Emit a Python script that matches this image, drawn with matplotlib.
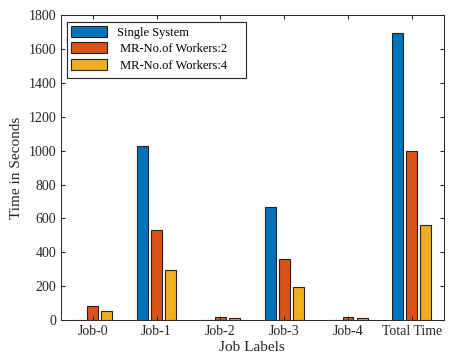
import matplotlib
matplotlib.use("Agg")
import matplotlib.pyplot as plt
from matplotlib.patches import Rectangle
import numpy as np

plt.rcParams['font.family'] = ['Liberation Serif', 'DejaVu Serif']

categories = ["Job-0", "Job-1", "Job-2", "Job-3", "Job-4", "Total Time"]
single_system = [0, 1030, 0, 665, 0, 1697]
mr_workers_2 = [80, 530, 15, 360, 17, 1000]
mr_workers_4 = [52, 293, 10, 195, 10, 563]
series_labels = ["Single System", " MR-No.of Workers:2", " MR-No.of Workers:4"]
colors = ["#0072BD", "#D95319", "#EDB120"]

fig = plt.figure(figsize=(4.51, 3.60), dpi=100)
ax = fig.add_axes([0.135, 0.111, 0.849, 0.847])

x = np.arange(1, len(categories) + 1)
w = 0.17
offsets = [-0.22, 0.0, 0.22]
for vals, off, c, lab in zip([single_system, mr_workers_2, mr_workers_4], offsets, colors, series_labels):
    ax.bar(x + off, vals, width=w, color=c, edgecolor="#222222", linewidth=0.8, label=lab)

ax.set_xlim(0.5, 6.5)
ax.set_ylim(0, 1800)
ax.set_yticks(np.arange(0, 1801, 200))
ax.set_xticks(x)
ax.set_xticklabels(categories)
ax.tick_params(direction="in", top=True, right=True, labelsize=10, colors="#262626", length=3)
for s in ax.spines.values():
    s.set_color("#262626")
    s.set_linewidth(0.7)
ax.set_xlabel("Job Labels", fontsize=11, color="#262626", labelpad=2)
ax.set_ylabel("Time in Seconds", fontsize=11, color="#262626", labelpad=4)

leg = ax.legend(loc="upper left", fontsize=9, frameon=False,
                handlelength=2.9, handleheight=1.0,
                borderpad=0.3, labelspacing=0.28, handletextpad=0.8,
                borderaxespad=0.0, bbox_to_anchor=(0.016, 0.977))
frame = Rectangle((0.0157, 0.793), 0.467, 0.184, transform=ax.transAxes,
                  facecolor="white", edgecolor="#262626", linewidth=0.8, zorder=4)
ax.add_patch(frame)
leg.set_zorder(5)

fig.savefig("out.png", dpi=100)
